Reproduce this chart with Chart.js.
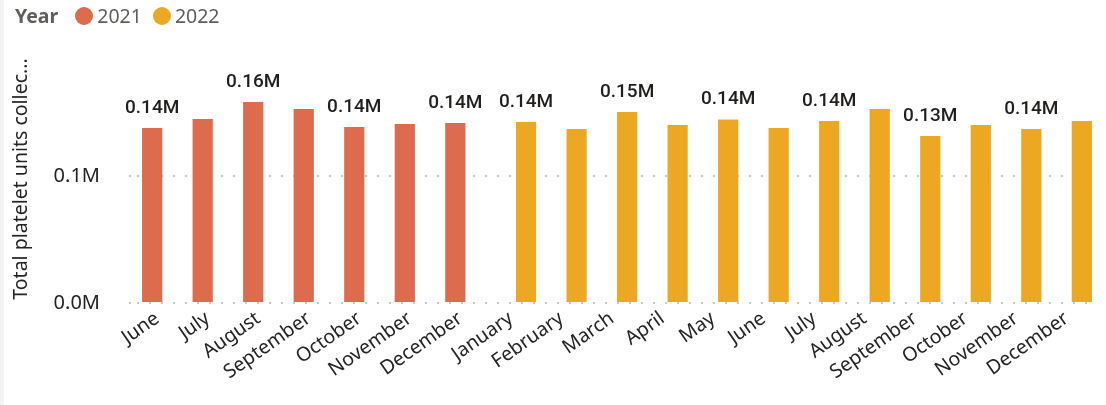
<!DOCTYPE html>
<html lang="en">
<head>
<meta charset="UTF-8">
<title>Total platelet units collected by month</title>
<script src="https://cdn.jsdelivr.net/npm/chart.js@4"></script>
<style>
    html, body {
        margin: 0;
        padding: 0;
        background: #fff;
    }
    body {
        position: relative;
        width: 1106px;
        height: 405px;
        overflow: hidden;
    }
    .edge {
        position: absolute;
        left: 0;
        top: 0;
        width: 4px;
        height: 405px;
        background: #f3f3f3;
    }
    #legend {
        position: absolute;
        left: 15px;
        top: 2px;
        display: flex;
        align-items: center;
        font-family: "Noto Sans", sans-serif;
        font-size: 19.5px;
        color: #605e5c;
        z-index: 2;
    }
    #legend .title {
        font-weight: bold;
        margin-right: 17px;
    }
    #legend .dot {
        width: 18px;
        height: 18px;
        border-radius: 50%;
        margin-right: 4px;
    }
    #legend .item {
        display: flex;
        align-items: center;
        margin-right: 11px;
    }
    .chart-box {
        position: absolute;
        left: 0;
        top: 0;
        width: 1106px;
        height: 405px;
    }
</style>
</head>
<body>
<div class="edge"></div>
<div id="legend"><span class="title">Year</span></div>
<div class="chart-box">
    <canvas id="plateletChart"></canvas>
</div>

<script>
// data
const months = ['June', 'July', 'August', 'September', 'October', 'November', 'December',
    'January', 'February', 'March', 'April', 'May', 'June', 'July', 'August',
    'September', 'October', 'November', 'December'];
const years = ['2021', '2022'];
const yearColors = ['#dd6b4d', '#eca823'];
const units2021 = [138100, 145200, 158600, 153100, 138900, 141300, 142100,
    null, null, null, null, null, null, null, null, null, null, null, null];
const units2022 = [null, null, null, null, null, null, null,
    142900, 137300, 150700, 140500, 144900, 138100, 143600, 153100, 131800, 140500, 137300, 143600];
// Power BI only printed every other label
const labelShown = [0, 2, 4, 6, 7, 9, 11, 13, 15, 17];
const yTicks = [0, 100000];
const yMax = 195740;

// legend
const legend = document.getElementById('legend');
years.forEach((y, i) => {
    const item = document.createElement('span');
    item.className = 'item';
    item.innerHTML = '<span class="dot" style="background:' + yearColors[i] + '"></span>' + y;
    legend.appendChild(item);
});

const fmtM = (v, d) => (v / 1000000).toFixed(d) + 'M';

const barLabels = {
    id: 'barLabels',
    afterDatasetsDraw(chart) {
        const ctx = chart.ctx;
        ctx.save();
        ctx.font = '500 19px Roboto';
        ctx.fillStyle = '#201f1e';
        ctx.textAlign = 'center';
        ctx.textBaseline = 'alphabetic';
        chart.data.datasets.forEach((ds, di) => {
            const meta = chart.getDatasetMeta(di);
            meta.data.forEach((bar, i) => {
                if (ds.data[i] == null || !labelShown.includes(i)) return;
                ctx.fillText(fmtM(ds.data[i], 2), bar.x, bar.y - 15);
            });
        });
        ctx.restore();
    }
};

const ctx = document.getElementById('plateletChart').getContext('2d');
new Chart(ctx, {
    type: 'bar',
    data: {
        labels: months,
        datasets: [
            {
                label: years[0],
                data: units2021,
                backgroundColor: yearColors[0],
                categoryPercentage: 0.8,
                barPercentage: 1.0
            },
            {
                label: years[1],
                data: units2022,
                backgroundColor: yearColors[1],
                categoryPercentage: 0.8,
                barPercentage: 1.0
            }
        ]
    },
    options: {
        responsive: true,
        maintainAspectRatio: false,
        animation: false,
        layout: {
            padding: { top: 55, right: 9, bottom: 0, left: 0 }
        },
        plugins: {
            legend: { display: false },
            tooltip: { enabled: false }
        },
        scales: {
            x: {
                grid: { display: false },
                border: { display: false },
                ticks: {
                    color: '#252423',
                    font: { family: 'Noto Sans', size: 19.5 },
                    minRotation: 35,
                    maxRotation: 35,
                    autoSkip: false,
                    padding: -4,
                    labelOffset: -5
                },
                afterFit(scale) {
                    scale.height = 102;
                }
            },
            y: {
                min: 0,
                max: yMax,
                border: { display: false, dash: [2, 10] },
                grid: {
                    color: '#c8c8c8',
                    lineWidth: 2,
                    tickLength: 14,
                    tickColor: '#c8c8c8',
                    tickWidth: 2,
                    tickBorderDash: [2, 10],
                    tickBorderDashOffset: 6
                },
                ticks: {
                    color: '#252423',
                    font: { family: 'Noto Sans', size: 20 },
                    padding: 23,
                    callback: v => fmtM(v, 1)
                },
                afterBuildTicks(scale) {
                    scale.ticks = yTicks.map(v => ({ value: v }));
                },
                title: {
                    display: true,
                    text: 'Total platelet units collec...',
                    color: '#252423',
                    font: { family: 'Noto Sans', size: 19.5 },
                    padding: { top: 10, bottom: 0 }
                },
                afterFit(scale) {
                    scale.width = 137;
                }
            }
        }
    },
    plugins: [barLabels]
});
</script>
</body>
</html>
